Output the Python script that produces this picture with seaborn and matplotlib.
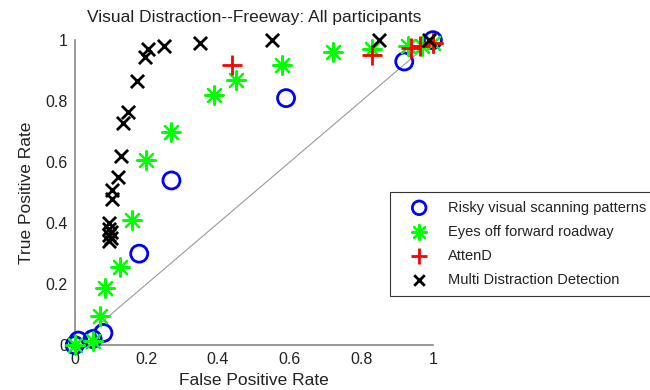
import pandas as pd
import matplotlib
matplotlib.use("Agg")
import matplotlib.pyplot as plt
import seaborn as sns

# values (false positive rate, true positive rate)
risky_fpr = [0.0, 0.01, 0.05, 0.08, 0.18, 0.27, 0.59, 0.92, 1.0]
risky_tpr = [0.0, 0.015, 0.02, 0.04, 0.30, 0.54, 0.81, 0.93, 1.0]

eyes_fpr = [0.0, 0.05, 0.07, 0.085, 0.125, 0.16, 0.2, 0.27, 0.39, 0.45, 0.58, 0.72, 0.83, 0.93, 0.97, 1.0]
eyes_tpr = [0.0, 0.015, 0.095, 0.187, 0.256, 0.41, 0.607, 0.70, 0.82, 0.87, 0.92, 0.96, 0.97, 0.98, 0.98, 0.99]

attend_fpr = [0.44, 0.83, 0.94, 0.965, 1.0]
attend_tpr = [0.92, 0.95, 0.975, 0.98, 0.99]

multi_fpr = [0.095, 0.1, 0.095, 0.1, 0.095, 0.095, 0.105, 0.105, 0.12, 0.13, 0.135, 0.15,
             0.175, 0.195, 0.205, 0.25, 0.35, 0.55, 0.85, 0.99]
multi_tpr = [0.34, 0.35, 0.36, 0.37, 0.38, 0.40, 0.48, 0.51, 0.55, 0.62, 0.73, 0.765,
             0.865, 0.945, 0.97, 0.98, 0.99, 1.0, 1.0, 1.0]

labels = ["Risky visual scanning patterns", "Eyes off forward roadway",
          "AttenD", "Multi Distraction Detection"]
ticks = [0, 0.2, 0.4, 0.6, 0.8, 1]
tick_labels = ["0", "0.2", "0.4", "0.6", "0.8", "1"]

sns.set_style("white")
plt.rcParams["font.family"] = ["Liberation Sans", "DejaVu Sans"]

fig = plt.figure(figsize=(6.5, 3.9), dpi=100)
ax = fig.add_axes([0.115, 0.115, 0.551, 0.782])

# chance diagonal
ax.axline((0, 0), (1, 1), color="#999999", lw=0.8, zorder=1)

df1 = pd.DataFrame({"fpr": risky_fpr, "tpr": risky_tpr})
df2 = pd.DataFrame({"fpr": eyes_fpr, "tpr": eyes_tpr})
df3 = pd.DataFrame({"fpr": attend_fpr, "tpr": attend_tpr})
df4 = pd.DataFrame({"fpr": multi_fpr, "tpr": multi_tpr})

sns.scatterplot(data=df1, x="fpr", y="tpr", ax=ax, marker="o", s=150,
                facecolors="none", edgecolor="#0000ff", linewidth=2, label=labels[0],
                clip_on=False, zorder=3)
sns.scatterplot(data=df2, x="fpr", y="tpr", ax=ax, marker=(8, 2, 0), s=180,
                color="#00ff00", linewidth=1.6, label=labels[1], clip_on=False, zorder=3)
sns.scatterplot(data=df3, x="fpr", y="tpr", ax=ax, marker="+", s=220,
                color="#ff0000", linewidth=2, label=labels[2], clip_on=False, zorder=4)
sns.scatterplot(data=df4, x="fpr", y="tpr", ax=ax, marker="x", s=90,
                color="black", linewidth=2, label=labels[3], clip_on=False, zorder=5)

ax.set_xlim(0, 1)
ax.set_ylim(0, 1)
ax.set_xticks(ticks)
ax.set_xticklabels(tick_labels)
ax.set_yticks(ticks)
ax.set_yticklabels(tick_labels)
ax.tick_params(direction="in", length=3, color="#888888", labelsize=11.5, pad=5,
               labelcolor="#222222")
for side in ["top", "right"]:
    ax.spines[side].set_visible(False)
for side in ["left", "bottom"]:
    ax.spines[side].set_color("#888888")
    ax.spines[side].set_linewidth(1.2)

ax.set_xlabel("False Positive Rate", fontsize=12.5, color="#222222")
ax.set_ylabel("True Positive Rate", fontsize=12.5, color="#222222", labelpad=8)
ax.set_title("Visual Distraction--Freeway: All participants", fontsize=12.5,
             pad=13, color="#222222")

handles, labs = ax.get_legend_handles_labels()
ax.legend_.remove()
leg = fig.legend(handles, labs, loc="upper left", bbox_to_anchor=(0.6, 0.508),
                 frameon=True, fancybox=False, edgecolor="black", fontsize=10.5,
                 handlelength=2.8, handletextpad=0.6, borderpad=0.6,
                 labelspacing=0.7, borderaxespad=0, markerscale=0.8)
leg.get_frame().set_linewidth(0.8)
for t in leg.get_texts():
    t.set_color("#222222")

fig.savefig("out.png", dpi=100)
